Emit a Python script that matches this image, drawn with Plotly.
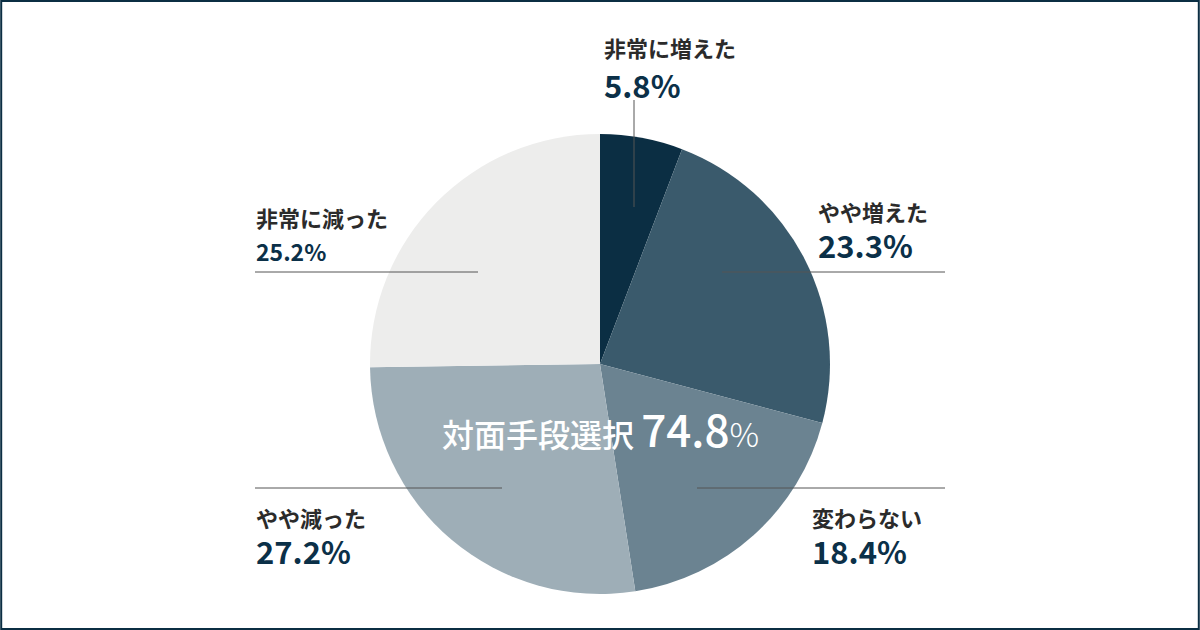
import plotly.graph_objects as go

W, H = 1200, 630

# data
labels = ["非常に増えた", "やや増えた", "変わらない", "やや減った", "非常に減った"]
values = [5.8, 23.3, 18.4, 27.2, 25.2]
colors = ["#0b2e43", "#3a5a6c", "#6b8391", "#9eaeb7", "#ededec"]
center_label = "対面手段選択"
center_value = 74.8

FONT = "Noto Sans CJK JP"
NAVY = "#0b3048"


def px(x, y):
  # pixel -> paper coords
  return x / W, 1 - y / H


fig = go.Figure()

fig.add_trace(go.Pie(
  labels=labels,
  values=values,
  sort=False,
  direction="clockwise",
  rotation=0,
  marker=dict(colors=colors, line=dict(width=0)),
  textinfo="none",
  hoverinfo="label+percent",
  domain=dict(x=[370 / W, 830 / W], y=[1 - 594 / H, 1 - 134 / H]),
  showlegend=False,
))

# label placement (pixels): text left x, title y, value y, value size
label_pos = [
  (602, 47, 85, 31),
  (816, 211, 245, 31),
  (810, 517, 550, 31),
  (254, 517, 550, 31),
  (254, 217, 251, 23),
]

annotations = []
for name, val, (lx, ty, vy, vs) in zip(labels, values, label_pos):
  x, y = px(lx, ty)
  annotations.append(dict(x=x, y=y, xref="paper", yref="paper", text=name, showarrow=False,
                          xanchor="left", yanchor="middle",
                          font=dict(family=FONT, size=22, color="#2b2b2b", weight="bold")))
  x, y = px(lx, vy)
  annotations.append(dict(x=x, y=y, xref="paper", yref="paper", text=f"{val}%", showarrow=False,
                          xanchor="left", yanchor="middle",
                          font=dict(family=FONT, size=vs, color=NAVY, weight="bold")))

# center text
x, y = px(600, 428)
annotations.append(dict(
  x=x, y=y, xref="paper", yref="paper", showarrow=False, xanchor="center", yanchor="middle",
  text=(f"<span style='font-size:32px'>{center_label}&nbsp;</span>"
        f"<span style='font-size:44px'>{center_value}</span>"
        f"<span style='font-size:33px;font-weight:300'>%</span>"),
  font=dict(family=FONT, color="white", weight=500),
))

# leader lines
lines = [
  (634, 100, 634, 207),
  (722, 272, 945, 272),
  (255, 272, 478, 272),
  (697, 488, 945, 488),
  (255, 488, 502, 488),
]
shapes = []
for x0, y0, x1, y1 in lines:
  a, b = px(x0, y0)
  c, d = px(x1, y1)
  shapes.append(dict(type="line", xref="paper", yref="paper", x0=a, y0=b, x1=c, y1=d,
                     line=dict(color="#555555", width=1)))

# frame
shapes.append(dict(type="rect", xref="paper", yref="paper", x0=0.001, y0=0.0015, x1=0.999, y1=0.9985,
                   line=dict(color="#0b2e43", width=2)))

fig.update_layout(
  width=W, height=H,
  margin=dict(l=0, r=0, t=0, b=0),
  paper_bgcolor="white",
  plot_bgcolor="white",
  annotations=annotations,
  shapes=shapes,
  font=dict(family=FONT),
)

# drop the default page margin so the figure sits at the window's corner
fig.write_html("out.html", config={"displayModeBar": False},
               post_script="document.body.style.margin='0';")
